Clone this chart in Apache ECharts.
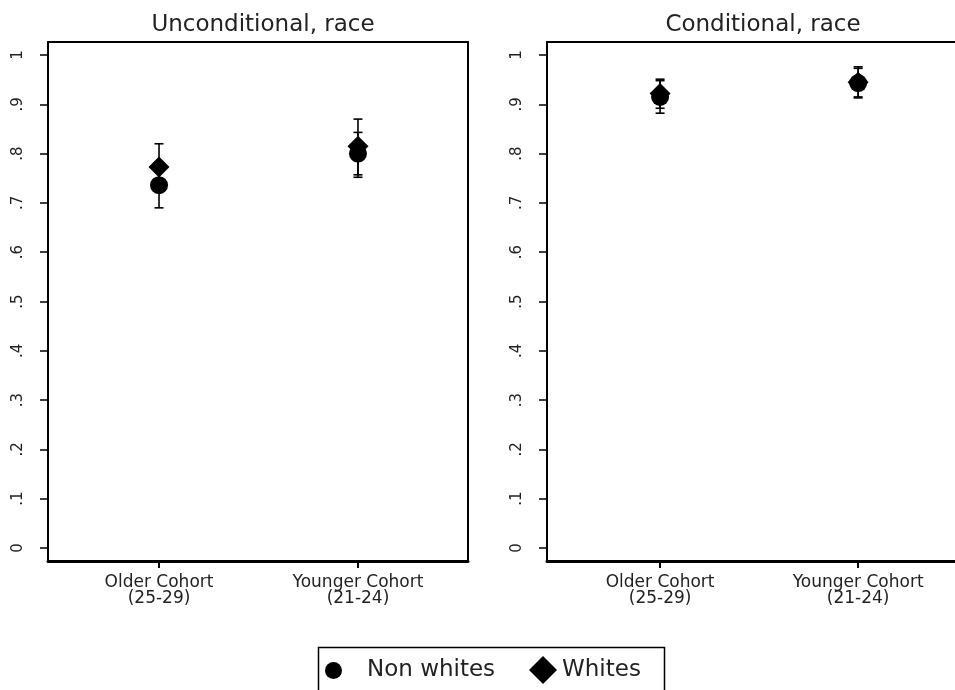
<!DOCTYPE html>
<html>
<head>
<meta charset="utf-8">
<script src="https://cdn.jsdelivr.net/npm/echarts@6/dist/echarts.min.js"></script>
<style>
  html, body { margin: 0; padding: 0; background: #fff; }
  #chart { width: 955px; height: 690px; }
</style>
</head>
<body>
<div id="chart"></div>
<script>
// Cohort categories (x positions 1 and 2)
const cohorts = ['Older Cohort\n(25-29)', 'Younger Cohort\n(21-24)'];
const cohortPos = [1, 2];
const yTicks = [0, 0.1, 0.2, 0.3, 0.4, 0.5, 0.6, 0.7, 0.8, 0.9, 1];
const panelTitles = ['Unconditional, race', 'Conditional, race'];
const seriesNames = ['Non whites', 'Whites'];

// Unconditional estimates with confidence bounds
const uncondNonWhites   = [0.736, 0.800];
const uncondNonWhitesLo = [0.690, 0.757];
const uncondNonWhitesHi = [0.782, 0.843];
const uncondWhites      = [0.773, 0.815];
const uncondWhitesLo    = [0.727, 0.752];
const uncondWhitesHi    = [0.820, 0.870];

// Conditional estimates with confidence bounds
const condNonWhites   = [0.915, 0.943];
const condNonWhitesLo = [0.882, 0.913];
const condNonWhitesHi = [0.948, 0.973];
const condWhites      = [0.922, 0.945];
const condWhitesLo    = [0.892, 0.915];
const condWhitesHi    = [0.951, 0.976];

const FONT = 'DejaVu Sans';
const TXT = '#222';
const Y_MIN = -0.0264, Y_MAX = 1.0264;

function pts(vals) { return vals.map((v, i) => [cohortPos[i], v]); }
function bars(lo, hi) { return lo.map((l, i) => [cohortPos[i], l, hi[i]]); }

function errorBar(params, api) {
  const x = api.value(0);
  const p1 = api.coord([x, api.value(1)]);
  const p2 = api.coord([x, api.value(2)]);
  const cap = 4.5;
  const st = { stroke: '#000', lineWidth: 1.6 };
  return {
    type: 'group',
    children: [
      { type: 'line', shape: { x1: p1[0], y1: p1[1], x2: p2[0], y2: p2[1] }, style: st },
      { type: 'line', shape: { x1: p1[0] - cap, y1: p1[1], x2: p1[0] + cap, y2: p1[1] }, style: st },
      { type: 'line', shape: { x1: p2[0] - cap, y1: p2[1], x2: p2[0] + cap, y2: p2[1] }, style: st }
    ]
  };
}

function yAxisFor(gi) {
  return {
    type: 'value', gridIndex: gi, min: Y_MIN, max: Y_MAX,
    axisLine: { show: true, onZero: false, lineStyle: { color: '#000', width: 2 } },
    axisTick: { show: true, customValues: yTicks, length: 8, lineStyle: { color: '#000', width: 1.5 } },
    axisLabel: {
      customValues: yTicks, rotate: 90, margin: 22,
      fontFamily: FONT, fontSize: 15, color: TXT,
      formatter: v => (v === 0 ? '0' : v === 1 ? '1' : '.' + Math.round(v * 10))
    },
    splitLine: { show: false }
  };
}

// plain frame edge (right side of a panel)
function yFrameFor(gi) {
  return {
    type: 'value', gridIndex: gi, min: Y_MIN, max: Y_MAX, position: 'right',
    axisLine: { show: true, onZero: false, lineStyle: { color: '#000', width: 2 } },
    axisTick: { show: false }, axisLabel: { show: false }, splitLine: { show: false }
  };
}

function xAxisFor(gi, min, max) {
  return {
    type: 'value', gridIndex: gi, min: min, max: max,
    axisLine: { show: true, onZero: false, lineStyle: { color: '#000', width: 3 } },
    axisTick: { show: true, customValues: cohortPos, length: 7, lineStyle: { color: '#000', width: 2 } },
    axisLabel: {
      customValues: cohortPos, margin: 14,
      fontFamily: FONT, fontSize: 17, lineHeight: 16, color: TXT,
      formatter: v => cohorts[Math.round(v) - 1]
    },
    splitLine: { show: false }
  };
}

// plain frame edge (top side of a panel)
function xFrameFor(gi, min, max) {
  return {
    type: 'value', gridIndex: gi, min: min, max: max, position: 'top',
    axisLine: { show: true, onZero: false, lineStyle: { color: '#000', width: 2 } },
    axisTick: { show: false }, axisLabel: { show: false }, splitLine: { show: false }
  };
}

function panelSeries(gi, nw, nwLo, nwHi, w, wLo, wHi) {
  return [
    { type: 'custom', name: seriesNames[0] + ' CI', xAxisIndex: gi, yAxisIndex: gi,
      renderItem: errorBar, data: bars(nwLo, nwHi), z: 2, silent: true },
    { type: 'custom', name: seriesNames[1] + ' CI', xAxisIndex: gi, yAxisIndex: gi,
      renderItem: errorBar, data: bars(wLo, wHi), z: 2, silent: true },
    { type: 'scatter', name: seriesNames[0], xAxisIndex: gi, yAxisIndex: gi,
      symbol: 'circle', symbolSize: 18, itemStyle: { color: '#000', opacity: 1 }, data: pts(nw), z: 3 },
    { type: 'scatter', name: seriesNames[1], xAxisIndex: gi, yAxisIndex: gi,
      symbol: 'diamond', symbolSize: 21, itemStyle: { color: '#000', opacity: 1 }, data: pts(w), z: 3 }
  ];
}

const chart = echarts.init(document.getElementById('chart'), null, { renderer: 'canvas' });

chart.setOption({
  animation: false,
  backgroundColor: '#fff',
  title: [
    { text: panelTitles[0], left: 258, top: 9, textAlign: 'center',
      textStyle: { fontFamily: FONT, fontSize: 23, fontWeight: 'normal', color: TXT } },
    { text: panelTitles[1], left: 758, top: 9, textAlign: 'center',
      textStyle: { fontFamily: FONT, fontSize: 23, fontWeight: 'normal', color: TXT } }
  ],
  grid: [
    { left: 48, top: 42, width: 420, height: 519 },
    { left: 547, top: 42, right: 0, height: 519 }
  ],
  xAxis: [
    xAxisFor(0, 0.442, 2.553), xAxisFor(1, 0.429, 2.489),
    xFrameFor(0, 0.442, 2.553), xFrameFor(1, 0.429, 2.489)
  ],
  yAxis: [yAxisFor(0), yAxisFor(1), yFrameFor(0)],
  legend: [
    { data: [{ name: seriesNames[0], icon: 'circle' }], left: 325, top: 659, padding: 0,
      itemWidth: 17, itemHeight: 17,
      textStyle: { fontFamily: FONT, fontSize: 23, color: TXT, padding: [0, 0, 0, 20] } },
    { data: [{ name: seriesNames[1], icon: 'diamond' }], left: 529, top: 656, padding: 0,
      itemWidth: 28, itemHeight: 28,
      textStyle: { fontFamily: FONT, fontSize: 23, color: TXT } }
  ],
  graphic: [
    { type: 'rect', left: 316, top: 645, shape: { width: 346, height: 60 },
      style: { fill: 'none', stroke: '#000', lineWidth: 1.5 }, silent: true, z: -1 }
  ],
  series: [].concat(
    panelSeries(0, uncondNonWhites, uncondNonWhitesLo, uncondNonWhitesHi, uncondWhites, uncondWhitesLo, uncondWhitesHi),
    panelSeries(1, condNonWhites, condNonWhitesLo, condNonWhitesHi, condWhites, condWhitesLo, condWhitesHi)
  )
});
</script>
</body>
</html>
